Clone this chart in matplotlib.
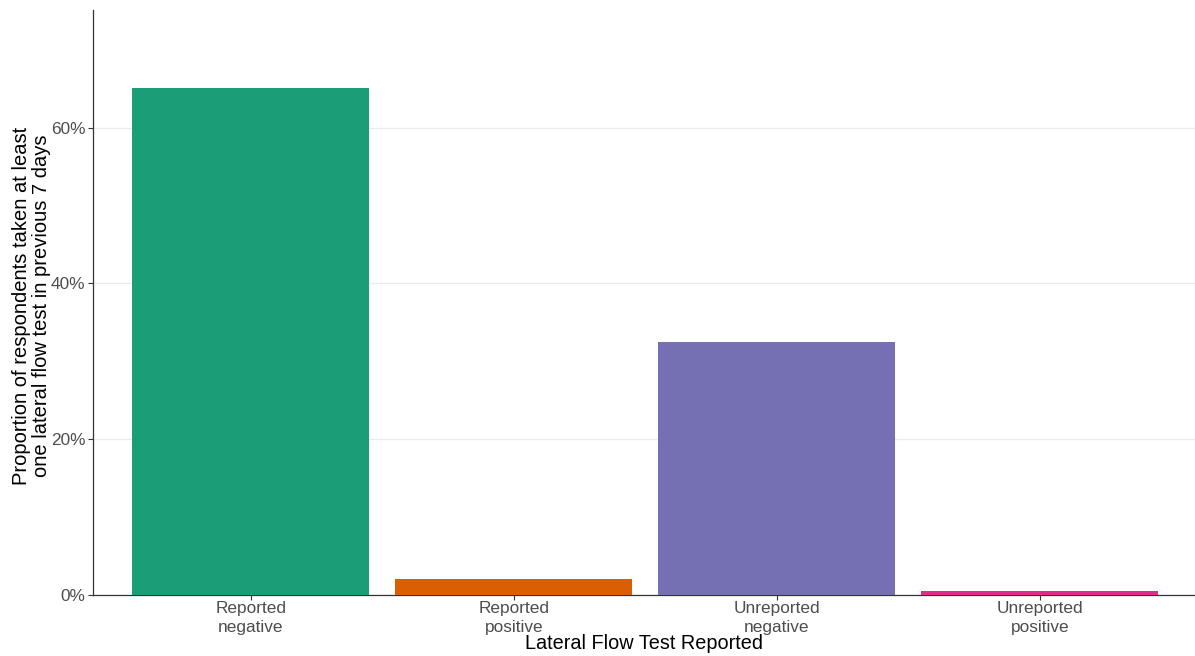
import matplotlib
matplotlib.use("Agg")
import matplotlib.pyplot as plt
from matplotlib.ticker import FuncFormatter

categories = ["Reported\nnegative", "Reported\npositive", "Unreported\nnegative", "Unreported\npositive"]
values = [65.1, 2.05, 32.5, 0.5]
colors = ["#1B9E77", "#D95F02", "#7570B3", "#E7298A"]
yticks = [0, 20, 40, 60]

plt.rcParams['font.family'] = ['Liberation Sans', 'DejaVu Sans']

fig = plt.figure(figsize=(11.95, 6.56), dpi=100)
ax = fig.add_axes([93/1195, 1-595/656, 1-93/1195, (595-10)/656])

x = list(range(1, len(categories)+1))
ax.bar(x, values, width=0.9, color=colors, zorder=3)

ax.set_xlim(0.4, 4.59)
ax.set_ylim(0, 75.1)
ax.set_yticks(yticks)
ax.yaxis.set_major_formatter(FuncFormatter(lambda v, p: f"{v:.0f}%"))
ax.set_xticks(x)
ax.set_xticklabels(categories, linespacing=1.3)
ax.grid(axis='y', color='#EBEBEB', linewidth=0.9, zorder=0)
ax.set_axisbelow(True)
for s in ['top', 'right']:
    ax.spines[s].set_visible(False)
for s in ['left', 'bottom']:
    ax.spines[s].set_color('#333333')
    ax.spines[s].set_linewidth(0.9)
ax.tick_params(axis='both', colors='#333333', labelcolor='#4D4D4D', labelsize=12.4, length=3.5, width=0.8)
ax.tick_params(axis='x', pad=1)
ax.tick_params(axis='y', pad=2)
ax.set_xlabel("Lateral Flow Test Reported", fontsize=14.3)
ax.xaxis.set_label_coords(0.5, -0.066)
ax.set_ylabel("Proportion of respondents taken at least\none lateral flow test in previous 7 days", fontsize=14.5, linespacing=1.05)
ax.yaxis.set_label_coords(-0.038, 0.495)

fig.savefig("out.png", dpi=100)
